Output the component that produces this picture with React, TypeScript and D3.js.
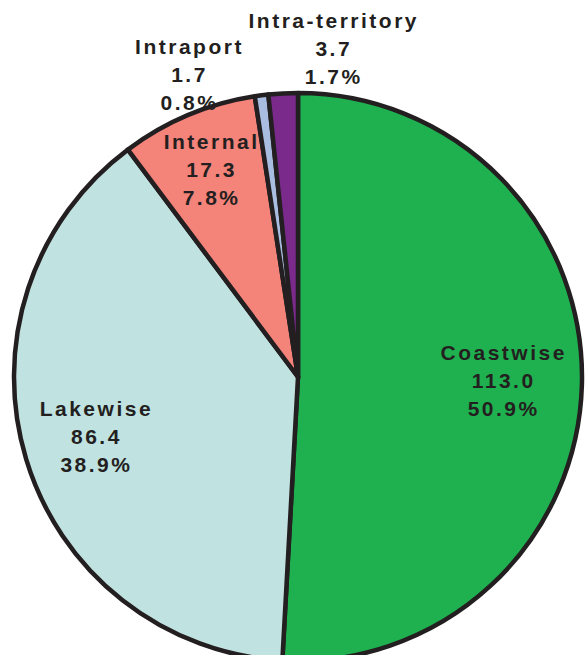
import * as d3 from 'd3'

// Shipments by traffic type (values + share)
const categories = ['Coastwise', 'Lakewise', 'Internal', 'Intraport', 'Intra-territory']
const values = [113.0, 86.4, 17.3, 1.7, 3.7]
const shares = ['50.9%', '38.9%', '7.8%', '0.8%', '1.7%']
const colors = ['#1fb14f', '#c0e2e0', '#f4837a', '#a9bde0', '#792a8b']

// label anchor: polar angle (deg, clockwise from top) and radius as share of pie radius
const labelPolar = [
  { angle: 91, k: 0.72 },
  { angle: 253.5, k: 0.745 },
  { angle: 337, k: 0.79 },
  { angle: 340, k: 1.13 },
  { angle: 6, k: 1.163 },
]

const WIDTH = 587
const HEIGHT = 655

export default function App() {
  const cx = 298
  const cy = 377
  const radius = 284

  const pie = d3.pie<number>().sort(null).value(d => d).startAngle(0).endAngle(2 * Math.PI)
  const arcs = pie(values)
  const arc = d3.arc<d3.PieArcDatum<number>>().innerRadius(0).outerRadius(radius)

  const lineH = 28
  const textColor = '#231f20'
  const ls = 2.5

  return (
    <svg
      width={WIDTH}
      height={HEIGHT}
      style={{ position: 'absolute', left: 0, top: 0, background: '#fff' }}
    >
      <g transform={`translate(${cx},${cy})`}>
        {arcs.map((a, i) => (
          <path
            key={categories[i]}
            d={arc(a) || ''}
            fill={colors[i]}
            stroke="#231f20"
            strokeWidth={4.5}
            strokeLinejoin="round"
          />
        ))}
        {arcs.map((a, i) => {
          const lp = labelPolar[i]
          const t = (lp.angle * Math.PI) / 180
          const x = Math.sin(t) * radius * lp.k + ls / 2
          const y = -Math.cos(t) * radius * lp.k
          const lines = [categories[i], values[i].toFixed(1), shares[i]]
          return (
            <text
              key={'l' + i}
              x={x}
              y={y}
              textAnchor="middle"
              fill={textColor}
              fontFamily="'Liberation Sans', Arial, sans-serif"
              fontWeight="bold"
              fontSize={21}
              letterSpacing={ls}
            >
              {lines.map((s, j) => (
                <tspan key={j} x={x} y={y + (j - 1) * lineH + 7}>
                  {s}
                </tspan>
              ))}
            </text>
          )
        })}
      </g>
    </svg>
  )
}
